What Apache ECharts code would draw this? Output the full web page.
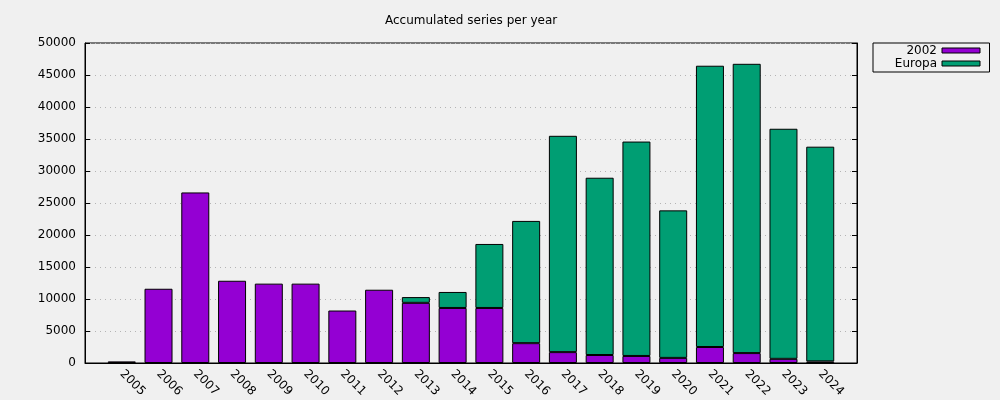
<!DOCTYPE html>
<html>
<head>
<meta charset="utf-8">
<script src="https://cdn.jsdelivr.net/npm/echarts@6/dist/echarts.min.js"></script>
<style>
html,body{margin:0;padding:0;background:#f0f0f0;}
#c{width:1000px;height:400px;}
</style>
</head>
<body>
<div id="c"></div>
<script>
const years = ['2005','2006','2007','2008','2009','2010','2011','2012','2013','2014','2015','2016','2017','2018','2019','2020','2021','2022','2023','2024'];
const s2002 = [250, 11600, 26650, 12850, 12400, 12400, 8200, 11450, 9400, 8600, 8600, 3100, 1700, 1250, 1100, 800, 2500, 1550, 650, 250];
const europa = [0, 0, 0, 0, 0, 0, 0, 0, 900, 2500, 10000, 19100, 33800, 27700, 33500, 23050, 43950, 45200, 35950, 33550];
const seriesNames = ['2002', 'Europa'];
const seriesColors = ['#9400d3', '#009e73'];
const yTicks = [0, 5000, 10000, 15000, 20000, 25000, 30000, 35000, 40000, 45000, 50000];
const titleText = 'Accumulated series per year';

const font = 'DejaVu Sans';
const chart = echarts.init(document.getElementById('c'), null, {renderer: 'canvas'});
// x range runs one slot beyond the first and last year (gnuplot histogram style)
const cats = [''].concat(years, ['']);
const pad = arr => ['-'].concat(arr.map(v => (v === 0 ? '-' : v)), ['-']);
const yAxisBase = {
  type: 'value', min: yTicks[0], max: yTicks[yTicks.length - 1], interval: yTicks[1] - yTicks[0]
};
chart.setOption({
  backgroundColor: '#f0f0f0',
  animation: false,
  textStyle: {fontFamily: font},
  title: {
    text: titleText, left: 385, top: 15, padding: 0,
    textStyle: {fontFamily: font, fontSize: 12, fontWeight: 'normal', color: '#000'}
  },
  grid: {left: 85, right: 143, top: 43, bottom: 37, show: true, borderColor: '#000', borderWidth: 1, backgroundColor: 'transparent'},
  legend: {
    orient: 'vertical', left: 873, top: 43, align: 'right',
    padding: [1, 9, 2, 4], itemGap: 0, itemWidth: 38, itemHeight: 5,
    borderColor: '#000', borderWidth: 1, borderRadius: 0,
    icon: 'rect',
    itemStyle: {borderColor: '#000', borderWidth: 1},
    textStyle: {fontFamily: font, fontSize: 12, color: '#000', width: 60, align: 'right', lineHeight: 13, padding: [0, 0, 0, 0]},
    data: seriesNames
  },
  xAxis: {
    type: 'category', data: cats, boundaryGap: false,
    axisLine: {show: true, lineStyle: {color: '#000'}},
    axisTick: {show: false},
    splitLine: {show: false},
    axisLabel: {
      rotate: -45, margin: 9, interval: 0, fontFamily: font, fontSize: 12, color: '#000'
    }
  },
  yAxis: [
    Object.assign({}, yAxisBase, {
      position: 'left',
      axisLine: {show: true, lineStyle: {color: '#000'}},
      axisTick: {show: true, inside: true, length: 5, lineStyle: {color: '#000'}},
      axisLabel: {fontFamily: font, fontSize: 12, color: '#000', margin: 9, formatter: v => String(v)},
      splitLine: {show: true, lineStyle: {color: '#b4b4b4', type: [1, 4], width: 1}}
    }),
    Object.assign({}, yAxisBase, {
      position: 'right',
      axisLine: {show: true, lineStyle: {color: '#000'}},
      axisTick: {show: true, inside: true, length: 5, lineStyle: {color: '#000'}},
      axisLabel: {show: false},
      splitLine: {show: false}
    })
  ],
  series: [
    {
      name: seriesNames[0], type: 'bar', stack: 'total', barWidth: 28,
      itemStyle: {color: seriesColors[0], borderColor: '#000', borderWidth: 1},
      data: pad(s2002)
    },
    {
      name: seriesNames[1], type: 'bar', stack: 'total', barWidth: 28,
      itemStyle: {color: seriesColors[1], borderColor: '#000', borderWidth: 1},
      data: pad(europa)
    }
  ]
});
</script>
</body>
</html>
